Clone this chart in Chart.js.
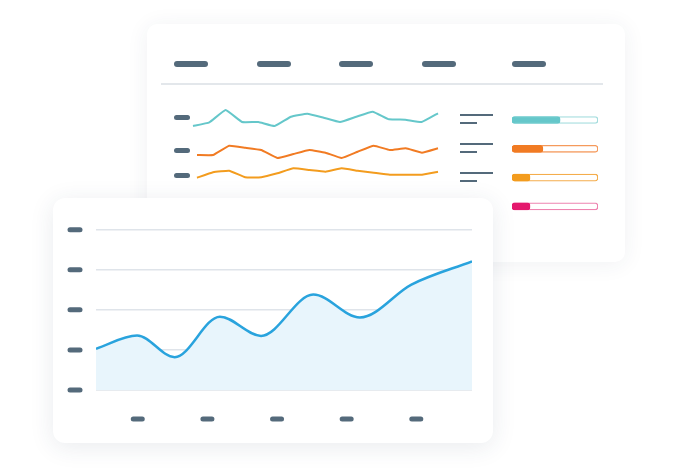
<!DOCTYPE html>
<html>
<head>
<meta charset="utf-8">
<script src="https://cdn.jsdelivr.net/npm/chart.js@4.4.0/dist/chart.umd.min.js"></script>
<style>
    html, body { margin: 0; padding: 0; background: #ffffff; }
    body { width: 678px; height: 472px; position: relative; overflow: hidden; font-family: "Open Sans", sans-serif; }
    .card { position: absolute; background: #ffffff; }
    #back-card { left: 147px; top: 24px; width: 478px; height: 238px; border-radius: 10px;
        box-shadow: 0 2px 22px rgba(40, 60, 90, 0.07); }
    #front-card { left: 53px; top: 198px; width: 440px; height: 245px; border-radius: 12px;
        box-shadow: 0 4px 24px rgba(40, 60, 90, 0.10); }
    .dash { position: absolute; background: #546a7b; border-radius: 3px; }
    .rule { position: absolute; background: #546a7b; height: 2px; }
    canvas { position: absolute; }
</style>
</head>
<body>
<div class="card" id="back-card"></div>
<div id="back-items"></div>
<canvas id="spark1" width="249" height="28" style="left:191px; top:104px;"></canvas>
<canvas id="spark2" width="245" height="26" style="left:195px; top:138px;"></canvas>
<canvas id="spark3" width="245" height="24" style="left:195px; top:162px;"></canvas>
<canvas id="bars" width="94" height="126" style="left:508px; top:100px;"></canvas>
<div class="card" id="front-card"></div>
<canvas id="mainChart" width="440" height="245" style="left:53px; top:198px;"></canvas>

<script>
// Sparkline series (back card)
const sparkTeal   = [4, 7.7, 20, 8, 8, 4, 13.3, 16.3, 12.3, 8, 13.3, 18.3, 10.7, 10.3, 8, 16.7];
const sparkOrange = [7, 7, 16.3, 14.3, 12, 4, 8, 12, 9.3, 4, 10.3, 16.3, 12, 13.7, 9.3, 13.7];
const sparkAmber  = [6.3, 11.7, 13.3, 6.7, 6.7, 10.7, 15.7, 14, 12.3, 15.7, 13.3, 11.3, 9.3, 9.3, 9.3, 12.3];

// Progress bars (percent filled)
const barRows = ['a', 'b', 'c', 'd'];
const barFilled = [56, 36, 21, 21];
const barTotal = [100, 100, 100, 100];

// Main area chart
const mainX = [0, 5.9, 11.3, 17.8, 23.7, 31.2, 37.9, 45.3, 54];
const mainY = [10.3, 13.6, 8.2, 18.3, 13.5, 23.8, 18.1, 26.3, 32.1];
const xTicks = [6, 16, 26, 36, 46];
const yTicks = [0, 10, 20, 30, 40];

const COLORS = {
    teal: '#65c7ca',
    orange: '#f17b23',
    amber: '#f39c1e',
    pink: '#e4186d',
    blue: '#29a3dd',
    dash: '#546a7b'
};

Chart.defaults.animation = false;
Chart.defaults.plugins.legend.display = false;
Chart.defaults.plugins.tooltip.enabled = false;

/**
 * Placeholder shapes on the back card (header, row labels, legend rules)
 */
function buildBackItems() {
    const holder = document.getElementById('back-items');
    const add = (cls, l, t, w, h, bg) => {
        const d = document.createElement('div');
        d.className = cls;
        d.style.left = l + 'px';
        d.style.top = t + 'px';
        d.style.width = w + 'px';
        d.style.height = h + 'px';
        if (bg) d.style.background = bg;
        holder.appendChild(d);
    };
    // header dashes
    [191, 274, 356, 439, 529].forEach(c => add('dash', c - 17, 61, 34, 6));
    // divider
    add('rule', 161, 83, 442, 2, '#e3e7eb');
    // row labels
    [117.5, 150, 175].forEach(c => add('dash', 174, c - 2.5, 16, 5));
    // legend rules
    [[115, 123], [144, 152], [173, 181]].forEach(([a, b]) => {
        add('rule', 460, a - 1, 33, 2);
        add('rule', 460, b - 1, 17, 2);
    });
}

function sparkline(id, values, color, max) {
    new Chart(document.getElementById(id), {
        type: 'line',
        data: {
            labels: values.map((_, i) => i),
            datasets: [{
                data: values,
                borderColor: color,
                borderWidth: 2,
                borderJoinStyle: 'round',
                pointRadius: 0,
                tension: 0.1,
                fill: false
            }]
        },
        options: {
            responsive: false,
            layout: { padding: 2 },
            scales: {
                x: { display: false },
                y: { display: false, min: 0, max: max }
            }
        }
    });
}

function progressBars() {
    const fills = [COLORS.teal, COLORS.orange, COLORS.amber, COLORS.pink];
    const outlines = ['#a3dcdd', '#f59a5c', '#f4ad4c', '#ee83b0'];
    new Chart(document.getElementById('bars'), {
        type: 'bar',
        data: {
            labels: barRows,
            datasets: [{
                data: barFilled,
                backgroundColor: fills,
                borderColor: fills,
                borderWidth: 1,
                borderSkipped: false,
                borderRadius: 3,
                barThickness: 7,
                grouped: false
            }, {
                data: barTotal,
                backgroundColor: '#ffffff',
                borderColor: outlines,
                borderWidth: 1.3,
                borderSkipped: false,
                borderRadius: 3,
                barThickness: 7,
                grouped: false
            }]
        },
        options: {
            responsive: false,
            indexAxis: 'y',
            layout: { padding: { left: 4, right: 4, top: 5.6, bottom: 5.2 } },
            scales: {
                x: { display: false, min: 0, max: 100 },
                y: { display: false }
            }
        }
    });
}

// Draws the short rounded dashes in place of tick labels
const tickDashes = {
    id: 'tickDashes',
    afterDraw(chart) {
        const ctx = chart.ctx;
        const area = chart.chartArea;
        const xs = chart.scales.x;
        const ys = chart.scales.y;
        ctx.save();
        ctx.fillStyle = COLORS.dash;
        yTicks.forEach(v => {
            const y = ys.getPixelForValue(v);
            ctx.beginPath();
            ctx.roundRect(area.left - 28.5, y - 2.5, 15, 5, 2.5);
            ctx.fill();
        });
        xTicks.forEach(v => {
            const x = xs.getPixelForValue(v);
            ctx.beginPath();
            ctx.roundRect(x - 7, area.bottom + 26.5, 14, 5, 2.5);
            ctx.fill();
        });
        ctx.restore();
    }
};

function mainChart() {
    new Chart(document.getElementById('mainChart'), {
        type: 'line',
        data: {
            datasets: [{
                data: mainX.map((x, i) => ({ x: x, y: mainY[i] })),
                borderColor: COLORS.blue,
                borderWidth: 2.5,
                backgroundColor: '#e8f5fc',
                fill: 'origin',
                pointRadius: 0,
                cubicInterpolationMode: 'monotone'
            }]
        },
        options: {
            responsive: false,
            layout: { padding: { left: 43, right: 21, top: 31.7, bottom: 53 } },
            scales: {
                x: { type: 'linear', display: false, min: 0, max: 54 },
                y: {
                    min: 0,
                    max: 40,
                    afterFit: s => { s.width = 0; },
                    afterBuildTicks: s => { s.ticks = yTicks.map(v => ({ value: v })); },
                    border: { display: false },
                    ticks: { display: false },
                    grid: {
                        drawTicks: false,
                        lineWidth: 1.5,
                        color: ctx => ctx.tick && ctx.tick.value === 0 ? '#cfd8e0' : '#dfe4ea'
                    }
                }
            }
        },
        plugins: [tickDashes]
    });
}

buildBackItems();
sparkline('spark1', sparkTeal, COLORS.teal, 24);
sparkline('spark2', sparkOrange, COLORS.orange, 22);
sparkline('spark3', sparkAmber, COLORS.amber, 20);
progressBars();
mainChart();
</script>
</body>
</html>
